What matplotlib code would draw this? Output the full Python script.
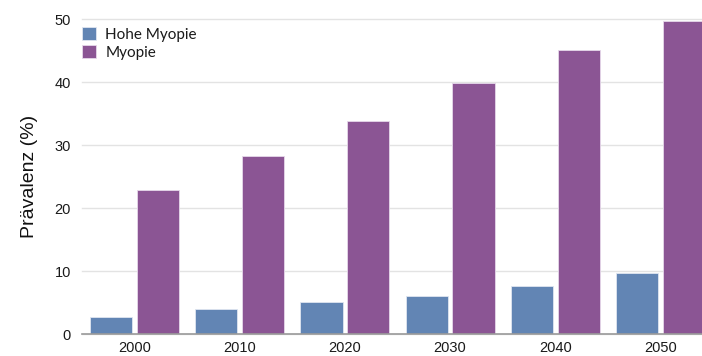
import numpy as np
import matplotlib
matplotlib.use("Agg")
import matplotlib.pyplot as plt

# === DADOS ===
jahre = ["2000", "2010", "2020", "2030", "2040", "2050"]
hohe_myopie = [2.7, 4.0, 5.2, 6.1, 7.7, 9.8]
myopie = [22.9, 28.3, 33.9, 39.9, 45.2, 49.8]

BLAU = "#6285b4"
LILA = "#8b5594"

plt.rcParams["font.family"] = ["Liberation Sans", "DejaVu Sans"]

fig = plt.figure(figsize=(7.02, 3.56), dpi=100)
ax = fig.add_axes([82 / 702, 21.7 / 356, 620 / 702, 315 / 356])

x = np.arange(len(jahre))
breite = 0.4
ax.bar(x - 0.2225, hohe_myopie, breite, color=BLAU, edgecolor="#dfe6f0",
       linewidth=0.6, label="Hohe Myopie", zorder=3)
ax.bar(x + 0.2225, myopie, breite, color=LILA, edgecolor="#e6d8ea",
       linewidth=0.6, label="Myopie", zorder=3)

ax.set_xlim(-0.5, 5.395)
ax.set_ylim(0, 50)
ax.set_yticks([0, 10, 20, 30, 40, 50])
ax.set_xticks(x)
ax.set_xticklabels(jahre)
ax.tick_params(axis="both", length=0, labelsize=10.5, pad=8, colors="#1a1a1a")
ax.tick_params(axis="x", pad=4.5)

ax.grid(axis="y", color="#e3e3e3", linewidth=1, zorder=0)
for gl in ax.get_ygridlines():
    gl.set_clip_on(False)
for s in ["top", "right", "left"]:
    ax.spines[s].set_visible(False)
ax.spines["bottom"].set_color("#9a9a9a")
ax.spines["bottom"].set_linewidth(1.2)
ax.spines["bottom"].set_zorder(4)

ax.set_ylabel("Prävalenz (%)", fontsize=14, color="#111111", labelpad=12)

leg = ax.legend(loc="upper left", bbox_to_anchor=(0.0, 0.975), frameon=False,
                prop={"family": "Lato", "size": 11}, handlelength=0.92,
                handleheight=0.92, handletextpad=0.6, labelspacing=0.2,
                borderaxespad=0.0, borderpad=0.0)
for t in leg.get_texts():
    t.set_color("#1a1a1a")

fig.savefig("out.png", dpi=100)
